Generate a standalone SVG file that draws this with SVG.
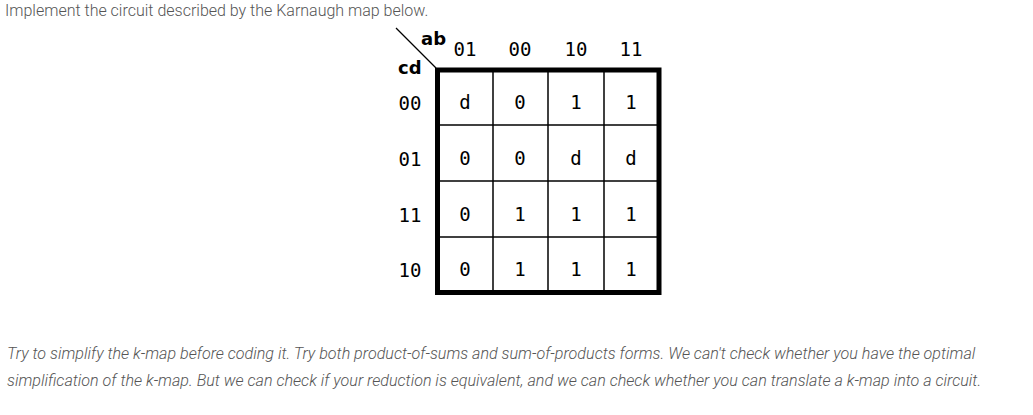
<svg xmlns="http://www.w3.org/2000/svg" width="1033" height="415" viewBox="0 0 1033 415">
<style>
.para{font-family:Roboto,"Liberation Sans",sans-serif;font-weight:300;font-size:16px;fill:#555}
.it{font-style:italic;font-size:16.13px}
.mono{font-family:"DejaVu Sans Mono","Liberation Mono",monospace;font-size:19px;fill:#000;text-anchor:middle}
.var{font-family:"DejaVu Sans","Liberation Sans",sans-serif;font-weight:bold;font-size:18px;fill:#000}
.grid{stroke:#000;stroke-width:1.5;fill:none}
</style>
<rect width="1033" height="415" fill="#fff"/>
<text class="para" x="5" y="16">Implement the circuit described by the Karnaugh map below.</text>
<g id="kmap">
<line x1="396" y1="28" x2="436" y2="68" stroke="#000" stroke-width="1.2"/>
<text class="var" x="421" y="45">ab</text>
<text class="var" x="398" y="74">cd</text>
<g class="mono">
<text x="465" y="56">01</text><text x="520" y="56">00</text><text x="576" y="56">10</text><text x="631" y="56">11</text>
<text x="410" y="110">00</text><text x="410" y="166">01</text><text x="410" y="222">11</text><text x="410" y="277">10</text>
</g>
<g class="grid">
<line x1="493" y1="70" x2="493" y2="292"/><line x1="548" y1="70" x2="548" y2="292"/><line x1="604" y1="70" x2="604" y2="292"/>
<line x1="437" y1="125" x2="659" y2="125"/><line x1="437" y1="181" x2="659" y2="181"/><line x1="437" y1="237" x2="659" y2="237"/>
</g>
<rect x="437.5" y="70" width="221.5" height="222.5" fill="none" stroke="#000" stroke-width="5"/>
<g class="mono">
<text x="465" y="109">d</text><text x="520" y="109">0</text><text x="576" y="109">1</text><text x="631" y="109">1</text>
<text x="465" y="165">0</text><text x="520" y="165">0</text><text x="576" y="165">d</text><text x="631" y="165">d</text>
<text x="465" y="221">0</text><text x="520" y="221">1</text><text x="576" y="221">1</text><text x="631" y="221">1</text>
<text x="465" y="276">0</text><text x="520" y="276">1</text><text x="576" y="276">1</text><text x="631" y="276">1</text>
</g>
</g>
<text class="para it" x="7" y="359">Try to simplify the k-map before coding it. Try both product-of-sums and sum-of-products forms. We can't check whether you have the optimal</text>
<text class="para it" x="7" y="386">simplification of the k-map. But we can check if your reduction is equivalent, and we can check whether you can translate a k-map into a circuit.</text>
</svg>
